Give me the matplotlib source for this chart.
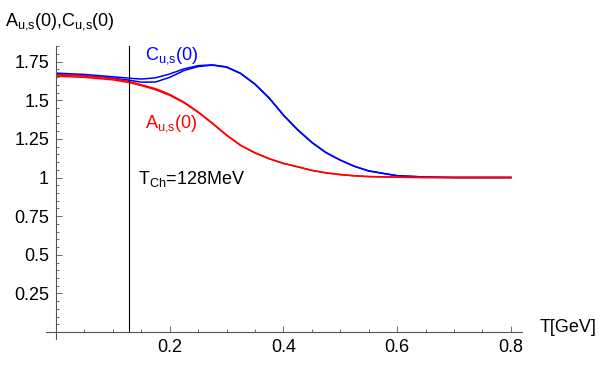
import matplotlib
matplotlib.use('Agg')
import matplotlib.pyplot as plt
from matplotlib.ticker import MultipleLocator, FixedLocator

plt.rcParams['font.family'] = ['Liberation Sans', 'DejaVu Sans']
plt.rcParams['mathtext.fontset'] = 'custom'
plt.rcParams['mathtext.rm'] = 'Liberation Sans'

# temperature grid [GeV]
T = [0.003, 0.05, 0.1, 0.128, 0.15, 0.175, 0.2, 0.225, 0.25, 0.275, 0.3, 0.325,
     0.35, 0.375, 0.4, 0.425, 0.45, 0.475, 0.5, 0.525, 0.55, 0.6, 0.65, 0.7, 0.75, 0.8]

C_u = [1.675, 1.667, 1.652, 1.643, 1.637, 1.645, 1.670, 1.703, 1.724, 1.729, 1.716, 1.674,
       1.605, 1.515, 1.405, 1.310, 1.228, 1.162, 1.113, 1.073, 1.043, 1.012, 1.003, 1.0, 1.0, 1.0]
C_s = [1.665, 1.658, 1.643, 1.630, 1.617, 1.618, 1.648, 1.692, 1.718, 1.727, 1.714, 1.672,
       1.603, 1.513, 1.403, 1.308, 1.226, 1.160, 1.112, 1.072, 1.042, 1.011, 1.003, 1.0, 1.0, 1.0]
A_u = [1.665, 1.657, 1.640, 1.622, 1.600, 1.575, 1.538, 1.488, 1.425, 1.352, 1.275, 1.208,
       1.160, 1.122, 1.092, 1.070, 1.046, 1.030, 1.019, 1.011, 1.006, 1.002, 1.0, 1.0, 1.0, 1.0]
A_s = [1.655, 1.648, 1.632, 1.615, 1.595, 1.568, 1.532, 1.484, 1.422, 1.350, 1.273, 1.207,
       1.159, 1.121, 1.091, 1.069, 1.046, 1.030, 1.019, 1.011, 1.006, 1.002, 1.0, 1.0, 1.0, 1.0]

T_ch = 0.128

W, H = 599, 371
fig = plt.figure(figsize=(W / 100, H / 100), dpi=100)
ax = fig.add_axes([46 / W, (H - 339) / H, (522 - 46) / W, (339 - 46) / H])
ax.set_xlim(-0.0176, 0.8197)
ax.set_ylim(-0.045, 1.851)

ax.plot(T, C_u, color='#0000ff', lw=1.1)
ax.plot(T, C_s, color='#0000ff', lw=1.1)
ax.plot(T, A_u, color='#ff0000', lw=1.1)
ax.plot(T, A_s, color='#ff0000', lw=1.1)
ax.plot([T_ch, T_ch], [0, 1.85], color='black', lw=0.8)

for s in ['top', 'right']:
    ax.spines[s].set_visible(False)
ax.spines['left'].set_position(('data', 0))
ax.spines['bottom'].set_position(('data', 0))
for s in ['left', 'bottom']:
    ax.spines[s].set_color('#555555')
    ax.spines[s].set_linewidth(0.8)

ax.xaxis.set_major_locator(FixedLocator([0.2, 0.4, 0.6, 0.8]))
ax.xaxis.set_minor_locator(MultipleLocator(0.05))
ax.yaxis.set_major_locator(FixedLocator([0.25, 0.5, 0.75, 1.0, 1.25, 1.5, 1.75]))
ax.yaxis.set_minor_locator(MultipleLocator(0.05))
ax.set_xticklabels(['0.2', '0.4', '0.6', '0.8'])
ax.set_yticklabels(['0.25', '0.5', '0.75', '1', '1.25', '1.5', '1.75'])
ax.tick_params(which='both', direction='in', color='#555555', width=0.6, labelsize=13, pad=5)
ax.tick_params(which='major', length=4)
ax.tick_params(which='minor', length=2)

fig.text(5 / W, (H - 22) / H, r'$\mathregular{A_{u{,}s}(0){,}C_{u{,}s}(0)}$', fontsize=13,
         ha='left', va='center')
ax.text(0.157, 1.79, r'$\mathregular{C_{u{,}s}(0)}$', color='#0000ff', fontsize=13,
        ha='left', va='center')
ax.text(0.157, 1.35, r'$\mathregular{A_{u{,}s}(0)}$', color='#ff0000', fontsize=13,
        ha='left', va='center')
ax.text(0.145, 0.99, r'$\mathregular{T_{Ch}}$=128MeV', color='black', fontsize=13,
        ha='left', va='center')
fig.text(540 / W, (H - 328) / H, 'T[GeV]', fontsize=13, ha='left', va='center')

fig.savefig('out.png', dpi=100)
